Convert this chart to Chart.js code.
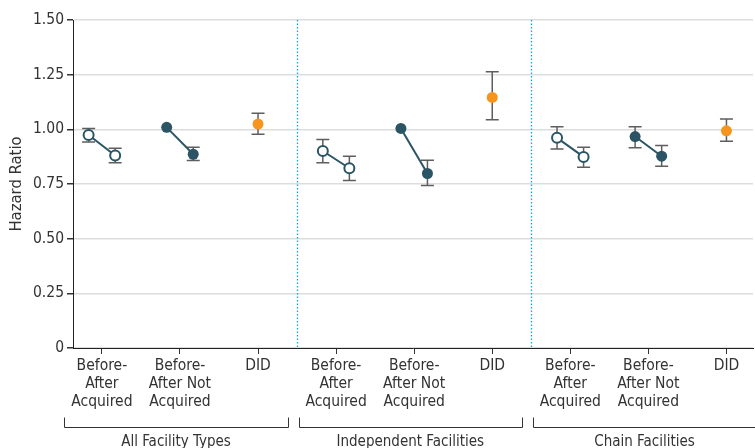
<!DOCTYPE html>
<html>
<head>
<meta charset="utf-8">
<script src="https://cdn.jsdelivr.net/npm/chart.js@4.4.1/dist/chart.umd.min.js"></script>
<style>
  html, body { margin: 0; padding: 0; background: #fff; overflow: hidden; }
  #wrap { width: 760px; height: 448px; position: relative; }
</style>
</head>
<body>
<div id="wrap"><canvas id="hrChart"></canvas></div>
<script>
const categories = [
  ["Before-", "After", "Acquired"], ["Before-", "After Not", "Acquired"], ["DID"],
  ["Before-", "After", "Acquired"], ["Before-", "After Not", "Acquired"], ["DID"],
  ["Before-", "After", "Acquired"], ["Before-", "After Not", "Acquired"], ["DID"]
];
const groups = ["All Facility Types", "Independent Facilities", "Chain Facilities"];
const yTicks = [0, 0.25, 0.5, 0.75, 1.0, 1.25, 1.5];

// hazard ratios per group (all, independent, chain)
const acqBefore = [0.974, 0.901, 0.961];
const acqBeforeCI = [[0.942, 1.004], [0.847, 0.954], [0.910, 1.012]];
const acqAfter = [0.880, 0.822, 0.874];
const acqAfterCI = [[0.847, 0.913], [0.766, 0.877], [0.827, 0.918]];
const notBefore = [1.009, 1.004, 0.967];
const notBeforeCI = [null, null, [0.916, 1.012]];
const notAfter = [0.886, 0.798, 0.877];
const notAfterCI = [[0.857, 0.918], [0.743, 0.859], [0.831, 0.926]];
const did = [1.024, 1.146, 0.993];
const didCI = [[0.977, 1.073], [1.044, 1.263], [0.945, 1.047]];

const teal = "#2b5564";
const orange = "#f7941d";
const FONT = "'DejaVu Sans Condensed', 'Liberation Sans Narrow', sans-serif";
const off = 0.17;

const datasets = [];
const bars = [];
groups.forEach((g, i) => {
  const base = i * 3;
  datasets.push({
    data: [{ x: base - off, y: acqBefore[i] }, { x: base + off, y: acqAfter[i] }],
    showLine: true, borderColor: teal, borderWidth: 2,
    pointRadius: 5, pointBorderWidth: 2, pointBackgroundColor: "#fff", pointBorderColor: teal
  });
  datasets.push({
    data: [{ x: base + 1 - off, y: notBefore[i] }, { x: base + 1 + off, y: notAfter[i] }],
    showLine: true, borderColor: teal, borderWidth: 2,
    pointRadius: 5.5, pointBorderWidth: 0, pointBackgroundColor: teal, pointBorderColor: teal
  });
  datasets.push({
    data: [{ x: base + 2, y: did[i] }],
    showLine: false, pointRadius: 5.5, pointBorderWidth: 0,
    pointBackgroundColor: orange, pointBorderColor: orange
  });
  bars.push({ x: base - off, ci: acqBeforeCI[i] });
  bars.push({ x: base + off, ci: acqAfterCI[i] });
  bars.push({ x: base + 1 - off, ci: notBeforeCI[i] });
  bars.push({ x: base + 1 + off, ci: notAfterCI[i] });
  bars.push({ x: base + 2, ci: didCI[i] });
});

const errorBars = {
  id: "errorBars",
  beforeDatasetsDraw(chart) {
    const { ctx, scales: { x, y } } = chart;
    ctx.save();
    ctx.strokeStyle = "#5e5e5e";
    ctx.lineWidth = 1.5;
    bars.forEach(b => {
      if (!b.ci) return;
      const px = x.getPixelForValue(b.x);
      const lo = y.getPixelForValue(b.ci[0]);
      const hi = y.getPixelForValue(b.ci[1]);
      ctx.beginPath();
      ctx.moveTo(px, lo); ctx.lineTo(px, hi);
      ctx.moveTo(px - 6.5, lo); ctx.lineTo(px + 6.5, lo);
      ctx.moveTo(px - 6.5, hi); ctx.lineTo(px + 6.5, hi);
      ctx.stroke();
    });
    ctx.restore();
  }
};

const groupDecor = {
  id: "groupDecor",
  afterDraw(chart) {
    const { ctx, chartArea, scales: { x } } = chart;
    ctx.save();
    // dotted dividers between facility groups
    ctx.strokeStyle = "#0ea5e6";
    ctx.lineWidth = 1.3;
    ctx.setLineDash([1.5, 2]);
    [2.5, 5.5].forEach(v => {
      const px = Math.round(x.getPixelForValue(v)) + 0.5;
      ctx.beginPath();
      ctx.moveTo(px, chartArea.top);
      ctx.lineTo(px, chartArea.bottom);
      ctx.stroke();
    });
    ctx.setLineDash([]);
    // brackets and group labels
    ctx.strokeStyle = "#333";
    ctx.lineWidth = 1;
    ctx.fillStyle = "#333";
    ctx.font = "15px " + FONT;
    ctx.textAlign = "center";
    ctx.textBaseline = "middle";
    const yb = chartArea.bottom + 79.5;
    groups.forEach((g, i) => {
      const l = Math.round(x.getPixelForValue(i * 3 - 0.48)) + 0.5;
      const r = Math.round(x.getPixelForValue(i * 3 + 2.38)) + 0.5;
      ctx.beginPath();
      ctx.moveTo(l, yb - 10); ctx.lineTo(l, yb); ctx.lineTo(r, yb); ctx.lineTo(r, yb - 10);
      ctx.stroke();
      ctx.fillText(g, x.getPixelForValue(i * 3 + 0.95), chartArea.bottom + 94);
    });
    ctx.restore();
  }
};

new Chart(document.getElementById("hrChart"), {
  type: "scatter",
  data: { datasets },
  plugins: [errorBars, groupDecor],
  options: {
    responsive: true,
    maintainAspectRatio: false,
    animation: false,
    layout: { padding: { top: 20, right: 0, left: 0, bottom: 0 } },
    plugins: { legend: { display: false }, tooltip: { enabled: false } },
    scales: {
      x: {
        type: "linear",
        min: -0.37,
        max: 8.34,
        afterBuildTicks: scale => { scale.ticks = categories.map((c, i) => ({ value: i })); },
        afterFit: scale => { scale.height = 100; },
        ticks: {
          autoSkip: false,
          maxRotation: 0,
          padding: 3,
          color: "#333",
          font: { family: FONT, size: 15.5, lineHeight: 1.16 },
          callback: v => categories[v]
        },
        grid: { display: true, drawOnChartArea: false, drawTicks: true, tickLength: 6, tickColor: "#333" },
        border: { display: true, color: "#222", width: 1 }
      },
      y: {
        min: 0,
        max: 1.5,
        afterBuildTicks: scale => { scale.ticks = yTicks.map(v => ({ value: v })); },
        afterFit: scale => { scale.width = 73; },
        title: { display: true, text: "Hazard Ratio", color: "#333", font: { family: FONT, size: 16.5, lineHeight: 1.2 }, padding: { top: 7, bottom: 0 } },
        ticks: {
          color: "#333",
          padding: 3,
          font: { family: FONT, size: 15.5 },
          callback: v => (v === 0 ? "0" : v.toFixed(2))
        },
        grid: { color: "#dddddd", lineWidth: 1.5, tickLength: 6, tickColor: "#333" },
        border: { display: true, color: "#222", width: 1 }
      }
    }
  }
});
</script>
</body>
</html>
